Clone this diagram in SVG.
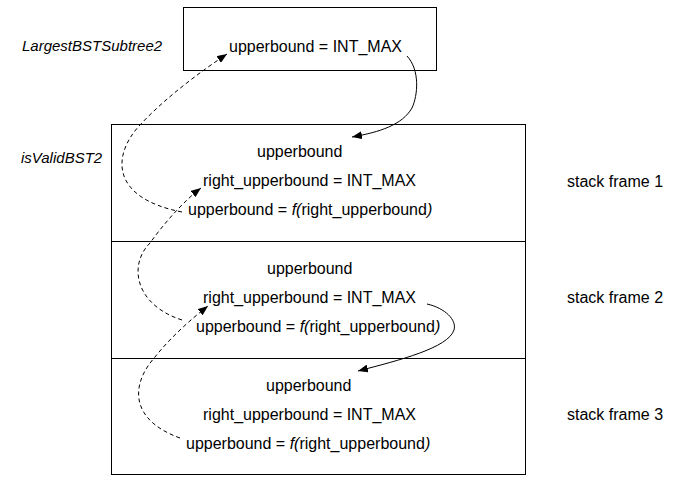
<svg xmlns="http://www.w3.org/2000/svg" width="674" height="482" viewBox="0 0 674 482">
<defs>
<style>
text{font-family:"Liberation Sans",Arial,Helvetica,sans-serif;font-size:16px;fill:#000}
.it{font-style:italic}
.lbl{font-style:italic;font-size:15px}
.box{fill:#fff;stroke:#000;stroke-width:1}
.c{fill:none;stroke:#000;stroke-width:1}
.d{fill:none;stroke:#000;stroke-width:1;stroke-dasharray:4 3}
</style>
<marker id="ah" viewBox="0 0 10 8" refX="10" refY="4" markerWidth="10" markerHeight="8" markerUnits="userSpaceOnUse" orient="auto">
<path d="M0,0 L10,4 L0,8 Z" fill="#000"/>
</marker>
</defs>
<rect width="674" height="482" fill="#fff"/>
<g id="label-largest"><text class="lbl" x="22" y="51">LargestBSTSubtree2</text></g>
<g id="label-isvalid"><text class="lbl" x="21" y="163">isValidBST2</text></g>
<g id="top-box">
<rect class="box" x="183.5" y="7.5" width="253" height="63"/>
<text x="229" y="52">upperbound = INT_MAX</text>
</g>
<g id="frame1">
<rect class="box" x="111.5" y="124.5" width="414" height="117"/>
<text x="257" y="157">upperbound</text>
<text x="203" y="186">right_upperbound = INT_MAX</text>
<text x="188" y="215">upperbound = <tspan class="it">f(</tspan>right_upperbound<tspan class="it">)</tspan></text>
<text x="567" y="187">stack frame 1</text>
</g>
<g id="frame2">
<rect class="box" x="111.5" y="241.5" width="414" height="117"/>
<text x="267" y="274">upperbound</text>
<text x="203" y="303">right_upperbound = INT_MAX</text>
<text x="196" y="332">upperbound = <tspan class="it">f(</tspan>right_upperbound<tspan class="it">)</tspan></text>
<text x="567" y="303">stack frame 2</text>
</g>
<g id="frame3">
<rect class="box" x="111.5" y="358.5" width="414" height="116"/>
<text x="266" y="391">upperbound</text>
<text x="203" y="420">right_upperbound = INT_MAX</text>
<text x="186" y="449">upperbound = <tspan class="it">f(</tspan>right_upperbound<tspan class="it">)</tspan></text>
<text x="567" y="420">stack frame 3</text>
</g>
<g id="connectors">
<path class="c" d="M407,56 C420,70 418,95 412,108 C402,125 380,132 352,137" marker-end="url(#ah)"/>
<path class="c" d="M427,304 C445,308 457,320 454,330 C448,348 400,360 358,371" marker-end="url(#ah)"/>
<path class="d" d="M182,212 C110,198 112,155 140,125 C165,98 200,72 227,54" marker-end="url(#ah)"/>
<path class="d" d="M182,320 C135,305 128,265 150,243 C165,222 185,200 201,188" marker-end="url(#ah)"/>
<path class="d" d="M180,438 C130,420 130,385 155,357 C170,338 190,320 208,306" marker-end="url(#ah)"/>
</g>
</svg>
